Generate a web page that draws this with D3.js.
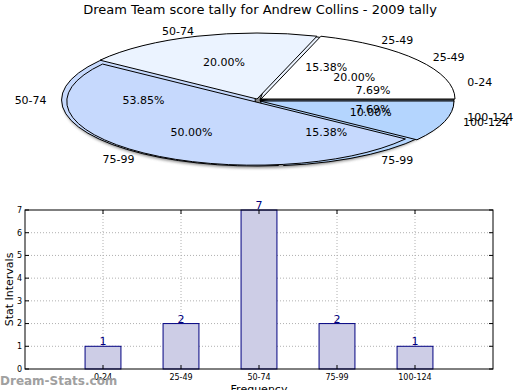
<!DOCTYPE html>
<html>
<head>
<meta charset="utf-8">
<script src="https://cdn.jsdelivr.net/npm/d3@7"></script>
<style>
  body { margin: 0; background: #fff; }
  svg { font-family: "DejaVu Sans", sans-serif; }
</style>
</head>
<body>
<script>
// data
var categories = ['0-24', '25-49', '50-74', '75-99', '100-124'];
var tally = [1, 2, 7, 2, 1];
var prevCats = ['25-49', '50-74', '75-99', '100-124'];
var prevTally = [2, 2, 5, 1];
var yTicks = [0, 1, 2, 3, 4, 5, 6, 7];

var W = 520, H = 390;
var svg = d3.select('body').append('svg')
  .attr('width', W).attr('height', H);

var defs = svg.append('defs');
defs.append('filter').attr('id', 'blur')
  .append('feGaussianBlur').attr('stdDeviation', 1.4);

svg.append('text')
  .attr('x', 260).attr('y', 14)
  .attr('text-anchor', 'middle')
  .style('font-size', '13px')
  .text('Dream Team score tally for Andrew Collins - 2009 tally');

///////////////////////////
// PIES (squashed ellipses, matplotlib style: ccw from 3 o'clock)
var cx = 260, cy = 100, rx = 194, ry = 66;
var pieClr = ['#ffffff', '#ebf3ff', '#c6d9fd', '#b4d5fe', '#b4d5fe'];
var pie2Clr = ['#ffffff', '#ebf3ff', '#c6d9fd', '#b4d5fe'];

var pie = d3.pie().sort(null)
  .startAngle(Math.PI / 2).endAngle(Math.PI / 2 - 2 * Math.PI);
var arc = d3.arc().innerRadius(0).outerRadius(1);

// wedge nudges [dx, dy, scale] to mimic the exploded/offset look
var nudge1 = { '50-74': [-5, 0, 1] };
var nudge2 = { '25-49': [1, -1, 1], '50-74': [-3, -1, 1], '75-99': [-6, 1.5, 0.965], '100-124': [0, 1, 1] };

var pg = svg.append('g');

// shadow
pg.append('ellipse')
  .attr('cx', cx - 3).attr('cy', cy + 2)
  .attr('rx', rx).attr('ry', ry)
  .attr('fill', '#555').attr('opacity', 0.7)
  .attr('filter', 'url(#blur)');

function drawPie(vals, cats, colors, nudge) {
  var arcs = pie(vals);
  pg.append('g').selectAll('path')
    .data(arcs)
    .enter().append('path')
    .attr('d', arc)
    .attr('transform', function(d, i) {
      var n = nudge[cats[i]] || [0, 0, 1];
      return 'translate(' + (cx + n[0]) + ',' + (cy + n[1]) + ') scale(' + (rx * n[2]) + ',' + (ry * n[2]) + ')';
    })
    .attr('fill', function(d, i) { return colors[i]; })
    .attr('stroke', '#000')
    .attr('stroke-width', 1)
    .attr('vector-effect', 'non-scaling-stroke');
  return arcs;
}

var arcs1 = drawPie(tally, categories, pieClr, nudge1);
var arcs2 = drawPie(prevTally, prevCats, pie2Clr, nudge2);

function labels(arcs, cats, vals) {
  var total = d3.sum(vals);
  var g = pg.append('g').style('font-size', '11px');
  arcs.forEach(function(d, i) {
    var a = (d.startAngle + d.endAngle) / 2;
    var ux = Math.sin(a), uy = -Math.cos(a);
    g.append('text')
      .attr('x', cx + 1.1 * rx * ux)
      .attr('y', cy + 1.1 * ry * uy)
      .attr('dy', '0.35em')
      .attr('text-anchor', ux > 0 ? 'start' : 'end')
      .text(cats[i]);
    g.append('text')
      .attr('x', cx + 0.6 * rx * ux)
      .attr('y', cy + 0.6 * ry * uy)
      .attr('dy', '0.35em')
      .attr('text-anchor', 'middle')
      .text((vals[i] / total * 100).toFixed(2) + '%');
  });
}
labels(arcs1, categories, tally);
labels(arcs2, prevCats, prevTally);

///////////////////////////
// BAR CHART
var bx0 = 25, bx1 = 493, by0 = 210, by1 = 369;
var x = d3.scaleLinear().domain([0, categories.length + 1]).range([bx0, bx1]);
var y = d3.scaleLinear().domain([0, 7]).range([by1, by0]);
var barW = 0.46;

var bg = svg.append('g');

// grid
bg.selectAll('line.gy')
  .data(yTicks.slice(1, -1))
  .enter().append('line')
  .attr('x1', bx0).attr('x2', bx1)
  .attr('y1', function(d) { return y(d); })
  .attr('y2', function(d) { return y(d); })
  .attr('stroke', '#b0b0b0').attr('stroke-dasharray', '1,2');
bg.selectAll('line.gx')
  .data(categories)
  .enter().append('line')
  .attr('x1', function(d, i) { return x(i + 1); })
  .attr('x2', function(d, i) { return x(i + 1); })
  .attr('y1', by0).attr('y2', by1)
  .attr('stroke', '#b0b0b0').attr('stroke-dasharray', '1,2');

// bars
bg.selectAll('rect')
  .data(tally)
  .enter().append('rect')
  .attr('x', function(d, i) { return x(i + 1 - barW / 2); })
  .attr('y', function(d) { return y(d); })
  .attr('width', x(barW) - x(0))
  .attr('height', function(d) { return y(0) - y(d); })
  .attr('fill', '#cdcde6')
  .attr('stroke', '#000080')
  .attr('stroke-width', 1);

// bar values
bg.selectAll('text.val')
  .data(tally)
  .enter().append('text')
  .attr('x', function(d, i) { return x(i + 1); })
  .attr('y', function(d) { return y(d) - 1; })
  .attr('text-anchor', 'middle')
  .attr('fill', '#000080')
  .style('font-size', '11px')
  .text(function(d) { return d; });

// frame
bg.append('rect')
  .attr('x', bx0).attr('y', by0)
  .attr('width', bx1 - bx0).attr('height', by1 - by0)
  .attr('fill', 'none').attr('stroke', '#000');

// ticks
yTicks.forEach(function(t) {
  bg.append('line').attr('x1', bx0).attr('x2', bx0 + 4)
    .attr('y1', y(t)).attr('y2', y(t)).attr('stroke', '#000');
  bg.append('line').attr('x1', bx1 - 4).attr('x2', bx1)
    .attr('y1', y(t)).attr('y2', y(t)).attr('stroke', '#000');
  bg.append('text').attr('x', bx0 - 3).attr('y', y(t))
    .attr('dy', '0.35em').attr('text-anchor', 'end')
    .style('font-size', '8px').text(t);
});
categories.forEach(function(c, i) {
  bg.append('line').attr('x1', x(i + 1)).attr('x2', x(i + 1))
    .attr('y1', by1).attr('y2', by1 - 4).attr('stroke', '#000');
  bg.append('line').attr('x1', x(i + 1)).attr('x2', x(i + 1))
    .attr('y1', by0).attr('y2', by0 + 4).attr('stroke', '#000');
  bg.append('text').attr('x', x(i + 1)).attr('y', by1 + 11)
    .attr('text-anchor', 'middle')
    .style('font-size', '8px').text(c);
});

bg.append('text')
  .attr('transform', 'translate(13,' + ((by0 + by1) / 2) + ') rotate(-90)')
  .attr('text-anchor', 'middle')
  .style('font-size', '11px')
  .text('Stat Intervals');
bg.append('text')
  .attr('x', (bx0 + bx1) / 2).attr('y', 393)
  .attr('text-anchor', 'middle')
  .style('font-size', '11px')
  .text('Frequency');

// watermark
svg.append('text')
  .attr('x', 0).attr('y', 385)
  .attr('fill', '#a0a0a0')
  .style('font-size', '12px')
  .style('font-weight', 'bold')
  .text('Dream-Stats.com');
</script>
</body>
</html>
